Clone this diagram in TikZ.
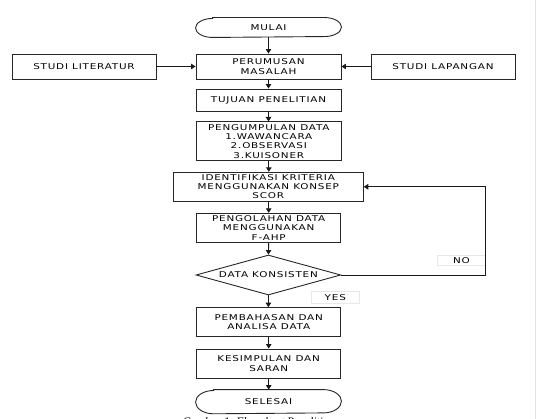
\documentclass[tikz,border=0pt]{standalone}
\usepackage{fontspec}
\setmainfont{Liberation Serif}
\newfontfamily\flowfont[FakeStretch=1.3,LetterSpace=10]{DejaVu Sans}
\usetikzlibrary{arrows.meta,shapes.geometric}
\begin{document}
\begin{tikzpicture}[x=1pt,y=-1pt,
  every node/.style={font=\flowfont\fontsize{8}{9.2}\selectfont, align=center, inner sep=0pt, text=black},
  procbox/.style={draw=black!85, line width=0.9pt, minimum width=145pt, minimum height=#1},
  termline/.style={draw=black!85, line width=0.9pt},
  arr/.style={draw=black!90, line width=0.9pt, -{Triangle[length=4.5pt,width=5.5pt]}},
  lab/.style={draw=gray!18, line width=0.6pt, fill=white, minimum width=48pt, minimum height=#1}]
\useasboundingbox (0,0) rectangle (538,419);
\clip (0,0) rectangle (538,419);

% terminals
\node[procbox=19pt, draw=none] (mulai) at (268.5,27.5) {MULAI};
\draw[termline] ([xshift=17pt]mulai.north west) -- ([xshift=-17pt]mulai.north east)
  arc[start angle=90,end angle=-90,x radius=17pt,y radius=9.5pt]
  -- ([xshift=17pt]mulai.south west)
  arc[start angle=270,end angle=90,x radius=17pt,y radius=9.5pt] -- cycle;

\node[procbox=23.3pt, draw=none] (selesai) at (268.5,401.7) {SELESAI};
\draw[termline] ([xshift=18pt]selesai.north west) -- ([xshift=-18pt]selesai.north east)
  arc[start angle=90,end angle=-90,x radius=18pt,y radius=11.65pt]
  -- ([xshift=18pt]selesai.south west)
  arc[start angle=270,end angle=90,x radius=18pt,y radius=11.65pt] -- cycle;

% process boxes
\node[procbox=25pt] (perum) at (268.5,66.5) {PERUMUSAN\\MASALAH};
\node[procbox=25pt, minimum width=144pt] (lit) at (84,66.5) {STUDI LITERATUR};
\node[procbox=25pt, minimum width=144pt] (lap) at (443,66.5) {STUDI LAPANGAN};
\node[procbox=22pt] (tujuan) at (268.5,100) {TUJUAN PENELITIAN};
\node[procbox=38.7pt, minimum width=144.5pt] (kumpul) at (268.8,141.3) {PENGUMPULAN DATA\\1.WAWANCARA\\2.OBSERVASI\\3.KUISONER};
\node[procbox=29pt, minimum width=190pt] (ident) at (268.3,186.8) {IDENTIFIKASI KRITERIA\\MENGGUNAKAN KONSEP\\SCOR};
\node[procbox=29.4pt, minimum width=144pt] (olah) at (268.7,228) {PENGOLAHAN DATA\\MENGGUNAKAN\\F-AHP};
\node[diamond, draw=black!85, line width=0.9pt, minimum width=144.7pt, minimum height=40pt, inner sep=0pt] (dec) at (268.4,275) {};
\node (declab) at (dec.center) {DATA KONSISTEN};
\node[procbox=29.3pt, minimum width=144pt] (bahas) at (268.7,322.3) {PEMBAHASAN DAN\\ANALISA DATA};
\node[procbox=29pt, minimum width=144pt] (simpul) at (268.7,363.5) {KESIMPULAN DAN\\SARAN};

% labels
\node[lab=10pt, minimum width=48.4pt] (nolab) at (461.5,260.3) {NO};
\node[lab=11.6pt] (yeslab) at (335.3,297.5) {YES};

% connectors
\coordinate (loop) at (485.7,186.8);
\draw[arr] (mulai.south) -- (perum.north);
\draw[arr] (lit.east) -- (perum.west);
\draw[arr] (lap.west) -- (perum.east);
\draw[arr] (perum.south) -- (tujuan.north);
\draw[arr] (tujuan.south) -- (tujuan.south |- kumpul.north);
\draw[arr] (kumpul.south) -- (ident.north -| kumpul.south);
\draw[arr] (ident.south -| olah.north) -- (olah.north);
\draw[arr] (olah.south) -- (dec.north);
\draw[arr] (dec.south) -- (bahas.north -| dec.south);
\draw[arr] (bahas.south) -- (simpul.north);
\draw[arr] (simpul.south) -- (selesai.north -| simpul.south);
\draw[arr] (dec.east) -| (loop) -- (ident.east);

% page edge
\draw[gray!22, line width=1pt] (535,0) -- (535,419);

% caption (cut off at the bottom)
\node[font=\itshape\fontsize{11.5}{12}\selectfont, anchor=base] (cap) at (258.5,425) {Gambar 1. Flowchart Penelitian};
\end{tikzpicture}
\end{document}
